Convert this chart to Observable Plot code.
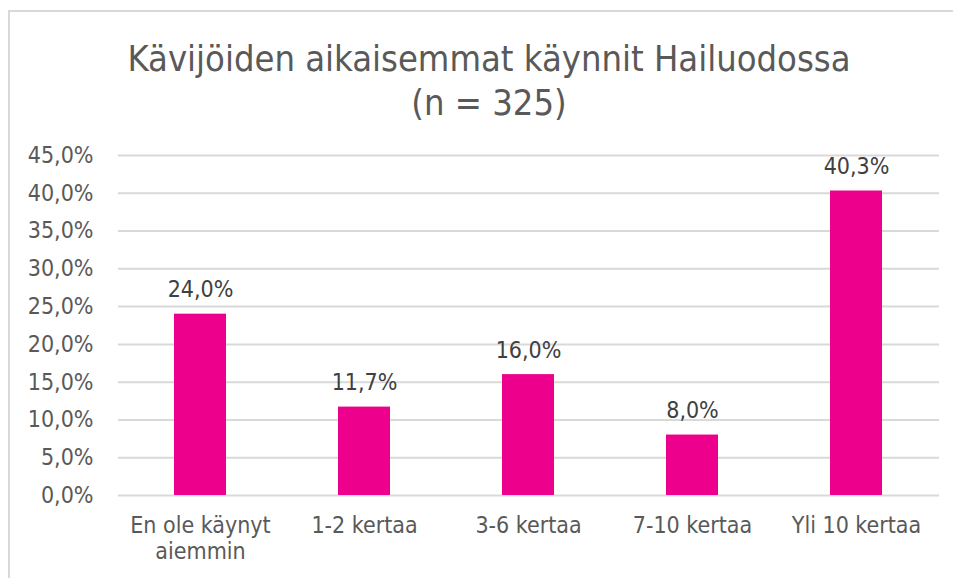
<!DOCTYPE html>
<html>
<head>
<meta charset="utf-8">
<script src="https://cdn.jsdelivr.net/npm/d3@7"></script>
<script src="https://cdn.jsdelivr.net/npm/@observablehq/plot@0.6"></script>
<style>
  html, body { margin: 0; padding: 0; background: #fff; }
  #wrap { position: relative; width: 953px; height: 578px; overflow: hidden; font-family: "DejaVu Sans Condensed", "DejaVu Sans", sans-serif; }
  #frame { position: absolute; left: 8px; top: 10px; width: 1000px; height: 600px; border-top: 2px solid #d9d9d9; border-left: 2px solid #d9d9d9; }
  #title { position: absolute; left: 0; top: 37px; width: 978px; text-align: center; color: #595959; font-size: 36px; line-height: 44px; }
  #chart { position: absolute; left: 0; top: 130px; }
</style>
</head>
<body>
<div id="wrap">
  <div id="frame"></div>
  <div id="title">Kävijöiden aikaisemmat käynnit Hailuodossa<br>(n = 325)</div>
  <div id="chart"></div>
</div>
<script>
const categories = ["En ole käynyt aiemmin", "1-2 kertaa", "3-6 kertaa", "7-10 kertaa", "Yli 10 kertaa"];
const values = [24.0, 11.7, 16.0, 8.0, 40.3];
const yTicks = [0, 5, 10, 15, 20, 25, 30, 35, 40, 45];

const data = categories.map((c, i) => ({category: c, value: values[i]}));
const fmt = d => d.toFixed(1).replace(".", ",") + "%";

const chart = Plot.plot({
  width: 953,
  height: 448,
  marginLeft: 118,
  marginRight: 14,
  marginTop: 25,
  marginBottom: 83,
  style: {fontFamily: '"DejaVu Sans Condensed", "DejaVu Sans", sans-serif', fontSize: "23px", color: "#595959", background: "transparent"},
  x: {domain: categories, paddingInner: 0.68, paddingOuter: 0.34, label: null},
  y: {domain: [0, 45], label: null},
  marks: [
    Plot.gridY(yTicks, {stroke: "#d9d9d9", strokeOpacity: 1, strokeWidth: 2}),
    Plot.barY(data, {x: "category", y: "value", fill: "#EC008C"}),
    Plot.text(data, {x: "category", y: "value", text: d => fmt(d.value), dy: -17, lineAnchor: "bottom", fill: "#404040", fontSize: 23}),
    Plot.axisY({ticks: yTicks, tickFormat: fmt, tickSize: 0, tickPadding: 25, fill: "#595959", fontSize: 23}),
    Plot.axisX({tickSize: 0, tickPadding: 20, tickFormat: d => d.replace("käynyt ", "käynyt\n"), fill: "#595959", fontSize: 23, lineHeight: 1.1})
  ]
});
document.getElementById("chart").appendChild(chart);
</script>
</body>
</html>
